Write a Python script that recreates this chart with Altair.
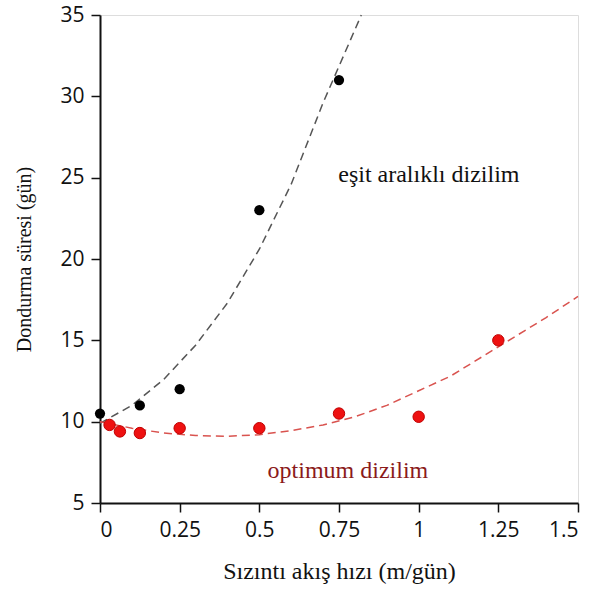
import altair as alt
import pandas as pd

# Measured points
eq_x = [0, 0.125, 0.25, 0.5, 0.75]
eq_y = [10.5, 11.0, 12.0, 23.0, 31.0]

opt_x = [0.03, 0.0625, 0.125, 0.25, 0.5, 0.75, 1.0, 1.25]
opt_y = [9.8, 9.4, 9.3, 9.6, 9.6, 10.5, 10.3, 15.0]

# Dashed trend curves
eq_curve_x = [0, 0.1, 0.2, 0.3, 0.4, 0.5, 0.6, 0.7, 0.82]
eq_curve_y = [9.9, 11.0, 12.6, 14.7, 17.3, 20.6, 24.6, 29.6, 35.0]

opt_curve_x = [0, 0.1, 0.2, 0.3, 0.4, 0.5, 0.6, 0.7, 0.8, 0.9, 1.0, 1.1, 1.2, 1.3, 1.4, 1.5]
opt_curve_y = [10.0, 9.6, 9.3, 9.15, 9.1, 9.2, 9.45, 9.8, 10.3, 11.0, 11.9, 12.8, 14.0, 15.2, 16.4, 17.7]

x_ticks = [0, 0.25, 0.5, 0.75, 1, 1.25, 1.5]
y_ticks = [5, 10, 15, 20, 25, 30, 35]

labels = ["eşit aralıklı dizilim", "optimum dizilim"]
label_x = [1.032, 0.778]
label_y = [24.74, 6.54]
label_colors = ["#111111", "#8b1a1a"]

eq_df = pd.DataFrame({"x": eq_x, "y": eq_y})
opt_df = pd.DataFrame({"x": opt_x, "y": opt_y})
eqc_df = pd.DataFrame({"x": eq_curve_x, "y": eq_curve_y})
optc_df = pd.DataFrame({"x": opt_curve_x, "y": opt_curve_y})
lab_df = pd.DataFrame({"t": labels, "x": label_x, "y": label_y, "c": label_colors})

xs = alt.Scale(domain=[0, 1.5], nice=False, zero=False)
ys = alt.Scale(domain=[5, 35], nice=False, zero=False)

common = dict(grid=False, titleFont="Liberation Serif", titleFontWeight="normal",
              titleColor="#111", labelFont="Open Sans", labelFontSize=21,
              labelColor="#111", labelPadding=7, tickSize=9, tickColor="#111",
              domainColor="#111", domainWidth=2, tickWidth=1.5)

x_axis = alt.Axis(values=x_ticks, labelExpr="'' + datum.value",
                  title="Sızıntı akış hızı (m/gün)", titleFontSize=24,
                  titlePadding=19, **common)
y_axis = alt.Axis(values=y_ticks,
                  title="Dondurma süresi (gün)", titleFontSize=20,
                  titlePadding=25, **common)

eq_line = alt.Chart(eqc_df).mark_line(color="#555555", strokeDash=[8, 5], strokeWidth=1.5).encode(
    x=alt.X("x:Q", scale=xs, axis=x_axis), y=alt.Y("y:Q", scale=ys, axis=y_axis))
opt_line = alt.Chart(optc_df).mark_line(color="#d9534f", strokeDash=[8, 5], strokeWidth=1.5).encode(
    x=alt.X("x:Q", scale=xs), y=alt.Y("y:Q", scale=ys))
eq_pts = alt.Chart(eq_df).mark_circle(color="#000000", size=105, opacity=1).encode(
    x=alt.X("x:Q", scale=xs), y=alt.Y("y:Q", scale=ys))
opt_pts = alt.Chart(opt_df).mark_point(filled=True, fill="#ee1111", stroke="#c00000",
                                       strokeWidth=1, shape="circle", size=130, opacity=1).encode(
    x=alt.X("x:Q", scale=xs), y=alt.Y("y:Q", scale=ys))
texts = alt.Chart(lab_df).mark_text(font="Liberation Serif", fontSize=24, align="center",
                                    baseline="alphabetic").encode(
    x=alt.X("x:Q", scale=xs), y=alt.Y("y:Q", scale=ys), text="t:N",
    color=alt.Color("c:N", scale=None))

chart = alt.layer(eq_line, opt_line, eq_pts, opt_pts, texts).properties(
    width=478, height=488,
    autosize=alt.AutoSizeParams(type="none"),
    padding={"left": 100, "top": 15, "right": 16, "bottom": 86},
).configure_view(stroke=None).configure(background="white")

chart.save("out.html", embed_options={"renderer": "svg", "actions": False})
